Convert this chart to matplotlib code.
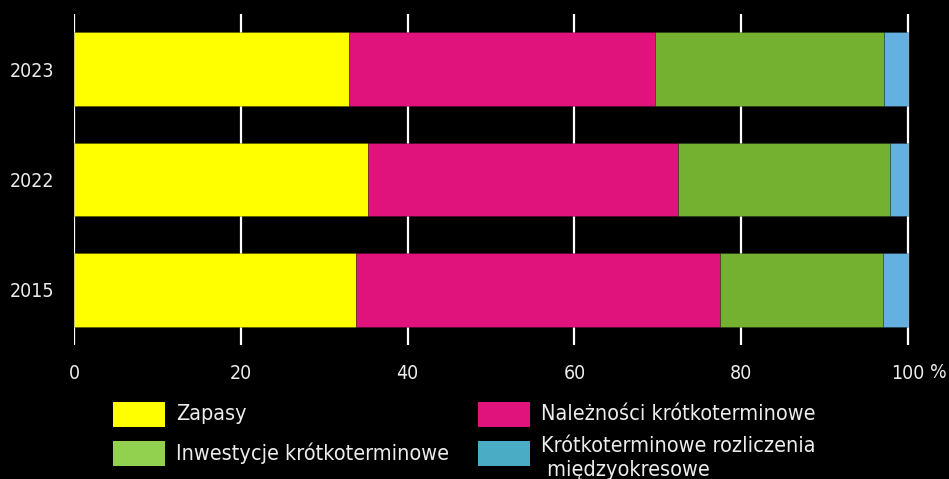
import matplotlib
matplotlib.use("Agg")
import matplotlib.pyplot as plt
from matplotlib.patches import Rectangle
from matplotlib import font_manager

years = ["2015", "2022", "2023"]
series_names = ["Zapasy", "Należności krótkoterminowe", "Inwestycje krótkoterminowe",
                "Krótkoterminowe rozliczenia\n międzyokresowe"]
zapasy = [33.8, 35.3, 33.0]
naleznosci = [43.7, 37.1, 36.7]
inwestycje = [19.5, 25.4, 27.4]
rozliczenia = [3.0, 2.2, 2.9]
xticks = [0, 20, 40, 60, 80, 100]

bar_colors = ["#ffff00", "#df137b", "#75b130", "#64b1e1"]
legend_colors = ["#ffff00", "#df137b", "#92d050", "#4bacc6"]

plt.rcParams['font.family'] = ['DejaVu Sans']
plt.rcParams['font.stretch'] = 'condensed'
fp = font_manager.FontProperties(family='DejaVu Sans', stretch='condensed', size=14)
fpl = font_manager.FontProperties(family='DejaVu Sans', stretch='condensed', size=15.5)
txt = "#ececec"

fig = plt.figure(figsize=(9.49, 4.79), dpi=100, facecolor="black")
W, H = 949, 479
xmax = 100.2
ax = fig.add_axes([74/W, 1-345/H, (908-74)*xmax/100/W, (345-14)/H], facecolor="black")

data = [zapasy, naleznosci, inwestycje, rozliczenia]
left = [0.0]*len(years)
for vals, c in zip(data, bar_colors):
    ax.barh(range(len(years)), vals, left=left, height=0.67, color=c, zorder=3,
            edgecolor=(0, 0, 0, 0.25), linewidth=0.6)
    left = [l + v for l, v in zip(left, vals)]

ax.set_xlim(0, xmax)
ax.set_ylim(-0.5, 2.5)
ax.set_yticks(range(len(years)))
ax.set_yticklabels(years, color=txt, fontproperties=fp)
ax.set_xticks(xticks)
ax.set_xticklabels([str(t) for t in xticks], color=txt, fontproperties=fp)
ax.tick_params(axis="x", length=0, pad=14)
ax.tick_params(axis="y", length=0, pad=14)
for s in ax.spines.values():
    s.set_visible(False)
ax.grid(axis="x", color="white", linewidth=1.6, zorder=0)
ax.set_axisbelow(True)
fig.text(938/W, 1-372/H, "%", color=txt, fontproperties=fp, va="center", ha="center")

# legend (manual)
pos = [(113, 402), (478, 402), (113, 441), (478, 441)]
for (px, py), name, c in zip(pos, series_names, legend_colors):
    fig.patches.append(Rectangle((px/W, 1-(py+25)/H), 52/W, 25/H, transform=fig.transFigure,
                                 facecolor=c, edgecolor="none"))
    if "\n" in name:
        fig.text((px+63)/W, 1-(py+17)/H, name, color=txt, fontproperties=fpl, va="center",
                 ha="left", linespacing=1.2)
    else:
        fig.text((px+63)/W, 1-(py+12)/H, name, color=txt, fontproperties=fpl, va="center", ha="left")

fig.savefig("out.png", dpi=100, facecolor="black")
